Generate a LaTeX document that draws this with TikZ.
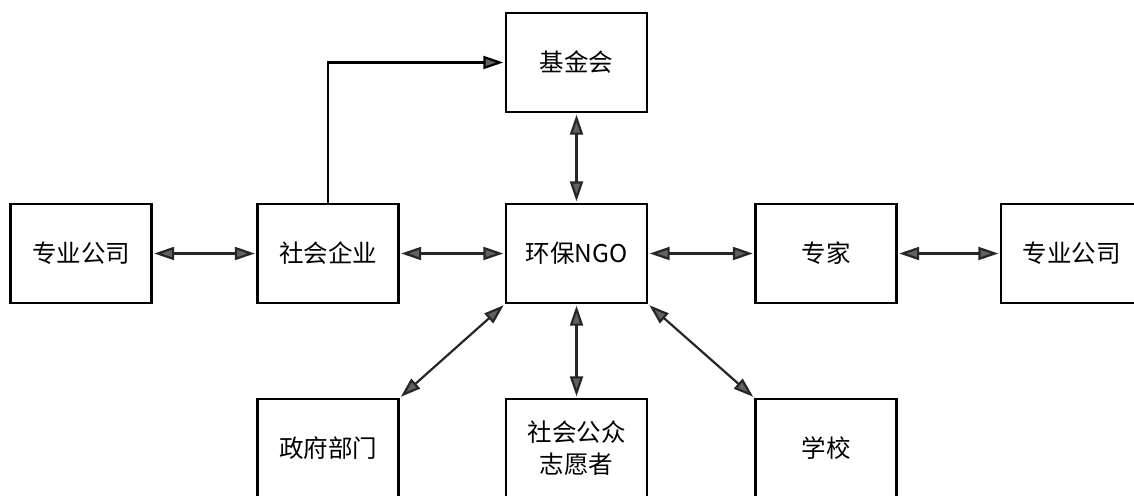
\documentclass[tikz,border=0pt]{standalone}
\usepackage{fontspec}
\setmainfont{Noto Sans CJK SC}
\usetikzlibrary{arrows.meta}
\tikzset{
  box/.style={draw=black, line width=2.4pt, minimum width=141pt, minimum height=99pt,
    inner sep=0pt, align=center, font=\fontsize{24.5}{32}\selectfont},
  link/.style={line width=2.2pt, draw=black!85, <->, shorten <=1.5pt, shorten >=1.5pt},
  onelink/.style={line width=2.2pt, draw=black, ->, shorten >=1.5pt}
}
\begin{document}
\begin{tikzpicture}[x=1pt,y=-1pt,>={Triangle[length=20pt,width=13pt,fill=black!62]}]
\useasboundingbox (0,0) rectangle (1134,495);
\clip (0,0) rectangle (1134,495);
\fill[white] (0,0) rectangle (1134,495);
\node[box] (fund) at (576.5,62.5) {基金会};
\node[box] (co1) at (81,253.5) {专业公司};
\node[box] (ent) at (328,253.5) {社会企业};
\node[box] (ngo) at (576.5,253.5) {环保NGO};
\node[box] (exp) at (826,253.5) {专家};
\node[box] (co2) at (1071.5,253.5) {专业公司};
\node[box] (gov) at (328,448.5) {政府部门};
\node[box] (pub) at (576.5,448.5) {社会公众\\志愿者};
\node[box] (sch) at (826,448.5) {学校};
\coordinate (bend) at (ent.north |- fund.west);
\draw[onelink] (ent.north) -- (bend) -- (fund.west);
\draw[link] (co1.east) -- (ent.west);
\draw[link] (ent.east) -- (ngo.west);
\draw[link] (ngo.east) -- (exp.west);
\draw[link] (exp.east) -- (co2.west);
\draw[link] (fund.south) -- (ngo.north);
\draw[link] (ngo.south west) -- (gov.north east);
\draw[link] (ngo.south) -- (pub.north);
\draw[link] (ngo.south east) -- (sch.north west);
\end{tikzpicture}
\end{document}
